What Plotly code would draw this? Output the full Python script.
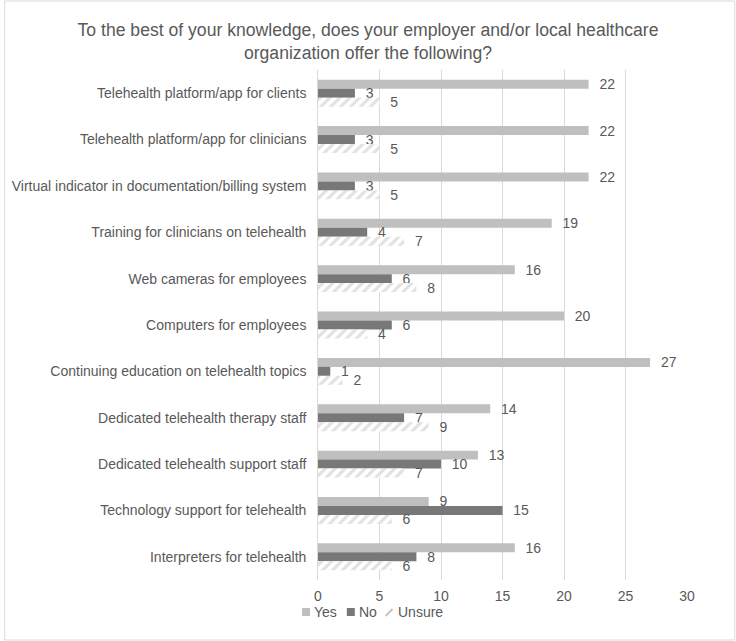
import plotly.graph_objects as go

categories = [
    "Telehealth platform/app for clients",
    "Telehealth platform/app for clinicians",
    "Virtual indicator in documentation/billing system",
    "Training for clinicians on telehealth",
    "Web cameras for employees",
    "Computers for employees",
    "Continuing education on telehealth topics",
    "Dedicated telehealth therapy staff",
    "Dedicated telehealth support staff",
    "Technology support for telehealth",
    "Interpreters for telehealth",
]
yes_vals = [22, 22, 22, 19, 16, 20, 27, 14, 13, 9, 16]
no_vals = [3, 3, 3, 4, 6, 6, 1, 7, 10, 15, 8]
unsure_vals = [5, 5, 5, 7, 8, 4, 2, 9, 7, 6, 6]
x_ticks = [0, 5, 10, 15, 20, 25, 30]
series_names = ["Yes", "No", "Unsure"]

txt = "#595959"
c_yes, c_no, c_uns = "#bfbfbf", "#787878", "#c4c4c4"
font_fam = "Liberation Sans, Arial, sans-serif"
lab_font = dict(color=txt, size=14, family=font_fam)

fig = go.Figure()
common = dict(orientation="h", textposition="outside", cliponaxis=False,
              constraintext="none", texttemplate="\u00a0\u00a0%{x}",
              textfont=lab_font, outsidetextfont=lab_font, showlegend=False)
fig.add_trace(go.Bar(
    name=series_names[0], y=categories, x=yes_vals,
    marker=dict(color=c_yes, line=dict(width=0)), **common,
))
fig.add_trace(go.Bar(
    name=series_names[1], y=categories, x=no_vals,
    marker=dict(color=c_no, line=dict(width=0)), **common,
))
fig.add_trace(go.Bar(
    name=series_names[2], y=categories, x=unsure_vals,
    marker=dict(color="white", line=dict(width=0),
                pattern=dict(shape="/", fgcolor=c_uns, bgcolor="white",
                             size=7, solidity=0.45, fillmode="overlay")),
    **common,
))

L, R, T, B = 316, 49, 70, 61
W, H = 736, 641
pw, ph = W - L - R, H - T - B


def px(x):
    return (x - L) / pw


def py(y):
    return (H - B - y) / ph


fig.update_layout(
    width=W, height=H,
    margin=dict(l=L, r=R, t=T, b=B),
    paper_bgcolor="white", plot_bgcolor="white",
    font=dict(family=font_fam, color=txt, size=14),
    barmode="group", bargap=0.42, bargroupgap=0,
    title=dict(
        text="To the best of your knowledge, does your employer and/or local healthcare<br>organization offer the following?",
        x=0.5, xanchor="center", y=1 - 36 / H, yanchor="middle",
        font=dict(size=17.6, color=txt, family=font_fam),
    ),
    xaxis=dict(
        range=[0, 30], tickvals=x_ticks, showgrid=True, gridcolor="#d9d9d9",
        gridwidth=1, zeroline=False, showline=False, ticks="",
        tickfont=dict(size=14, color=txt), ticklabelstandoff=6,
    ),
    yaxis=dict(
        autorange="reversed", showgrid=False, zeroline=False,
        showline=True, linecolor="#d9d9d9", linewidth=1, ticks="",
        tickfont=dict(size=14, color=txt), ticksuffix="  ",
    ),
    showlegend=False,
)

# legend drawn manually (compact, Excel-like)
leg_y = 612
fig.add_shape(type="rect", xref="paper", yref="paper",
              x0=px(300), x1=px(308), y0=py(616), y1=py(608),
              fillcolor=c_yes, line=dict(width=0))
fig.add_shape(type="rect", xref="paper", yref="paper",
              x0=px(345), x1=px(353), y0=py(616), y1=py(608),
              fillcolor=c_no, line=dict(width=0))
fig.add_shape(type="line", xref="paper", yref="paper",
              x0=px(384), x1=px(391), y0=py(616), y1=py(609),
              line=dict(color=c_uns, width=2))
for name, xpos in zip(series_names, [310, 355, 394]):
    fig.add_annotation(
        text=name, xref="paper", yref="paper", x=px(xpos), y=py(leg_y),
        xanchor="left", yanchor="middle", showarrow=False,
        font=dict(size=14, color=txt, family=font_fam),
    )

# outer chart border
fig.add_shape(
    type="rect", xref="paper", yref="paper",
    x0=(-L + 1) / pw, x1=(pw + R - 1) / pw,
    y0=(-B + 1) / ph, y1=(ph + T - 1) / ph,
    line=dict(color="#d9d9d9", width=1), fillcolor="rgba(0,0,0,0)", layer="below",
)

fig.write_html("out.html")
